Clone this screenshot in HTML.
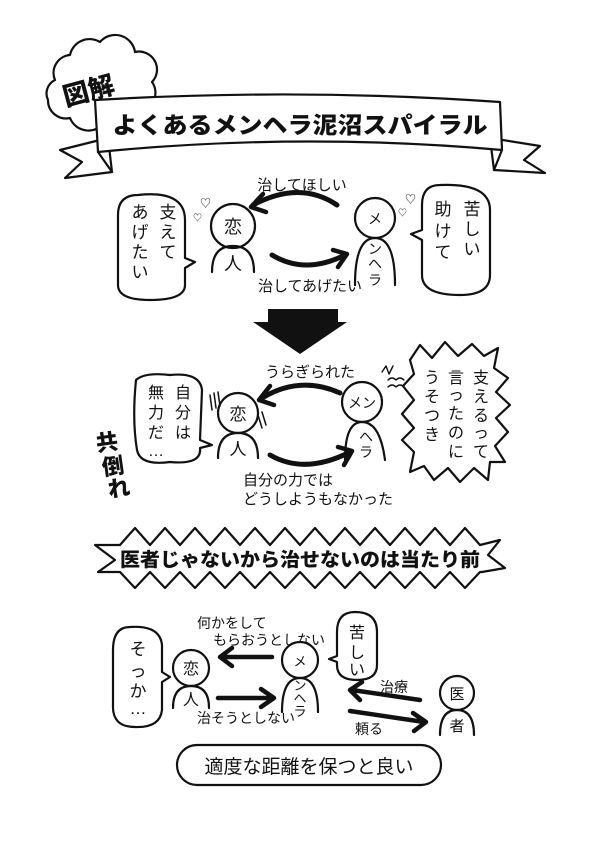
<!DOCTYPE html>
<html><head><meta charset="utf-8"><style>
html,body{margin:0;padding:0;background:#fff;}
svg{display:block;}
text{font-family:"Liberation Sans","Noto Sans CJK JP",sans-serif;fill:#111;}
.b{font-weight:900;}
</style></head><body>
<svg width="600" height="845" viewBox="0 0 600 845" xmlns="http://www.w3.org/2000/svg" fill="none" stroke="#111" stroke-width="2.2" stroke-linecap="round" stroke-linejoin="round">
<!-- cloud -->
<path fill="#fff" d="M55,80 A18,18 0 0 1 70,55 A20,20 0 0 1 100,42 A20,20 0 0 1 135,52 A18,18 0 0 1 152,82 A18,18 0 0 1 142,110 A20,20 0 0 1 105,122 A20,20 0 0 1 70,118 A18,18 0 0 1 48,100 A15,15 0 0 1 55,80 Z"/>
<text x="62" y="102" font-size="26" class="b" stroke="none" transform="rotate(-15 80 90)">図解</text>
<!-- ribbon tails -->
<path fill="#fff" d="M108,138 L60,150 L82,162 L65,178 L112,172 Z"/>
<path fill="#fff" d="M490,138 L540,146 L524,160 L545,173 L494,170 Z"/>
<path fill="#fff" d="M95,100 Q300,88 500,102 L502,150 Q300,132 98,152 Z"/>
<path d="M98,152 L112,172 M502,150 L494,170"/>
<text x="300" y="133" font-size="23" class="b" stroke="none" text-anchor="middle" textLength="375" lengthAdjust="spacingAndGlyphs">よくあるメンヘラ泥沼スパイラル</text>

<!-- section 1 -->
<text x="302" y="190" font-size="15" stroke="none" text-anchor="middle">治してほしい</text>
<path stroke-width="5" d="M337,205 Q300,180 253,205"/>
<path stroke-width="4.5" d="M263,194 L251,207 L266,212"/>
<path stroke-width="5" d="M272,255 Q305,275 345,255"/>
<path stroke-width="4.5" d="M333,250 L347,254 L338,267"/>
<text x="310" y="291" font-size="15" stroke="none" text-anchor="middle">治してあげたい</text>
<!-- 恋人 -->
<circle cx="233" cy="226" r="22" fill="#fff"/>
<path d="M212,272 Q212,246 233,246 Q254,246 254,272"/>
<text x="233" y="233" font-size="18" stroke="none" text-anchor="middle">恋</text>
<text x="233" y="270" font-size="18" stroke="none" text-anchor="middle">人</text>
<!-- メンヘラ -->
<circle cx="375" cy="218" r="20" fill="#fff"/>
<path d="M355,285 Q355,238 375,238 Q395,238 395,285"/>
<g font-size="14" stroke="none" text-anchor="middle"><text x="375" y="224">メ</text><text x="375" y="254">ン</text><text x="375" y="269">ヘ</text><text x="375" y="285">ラ</text></g>
<!-- bubbles -->
<path d="M138,195 Q185,190 185,220 L185,258 L195,262 L185,268 L185,285 Q185,300 150,300 Q118,300 118,285 L118,215 Q118,195 138,195 Z"/>
<g font-size="17" stroke="none" text-anchor="middle"><text x="168" y="218">支</text><text x="168" y="238">え</text><text x="168" y="258">て</text>
<text x="140" y="218">あ</text><text x="140" y="238">げ</text><text x="140" y="258">た</text><text x="140" y="278">い</text></g>
<path d="M440,185 Q490,183 490,210 L490,275 Q490,295 460,295 Q422,295 422,275 L422,240 L411,234 L422,230 L422,205 Q422,185 440,185 Z"/>
<g font-size="17" stroke="none" text-anchor="middle"><text x="472" y="215">苦</text><text x="472" y="235">し</text><text x="472" y="255">い</text>
<text x="443" y="215">助</text><text x="443" y="237">け</text><text x="443" y="258">て</text></g>
<text x="200" y="207" font-size="11" stroke="none">♡</text><text x="193" y="221" font-size="9" stroke="none">♡</text>
<text x="405" y="203" font-size="11" stroke="none">♡</text><text x="398" y="216" font-size="9" stroke="none">♡</text>

<!-- big arrow -->
<path fill="#111" stroke="none" d="M268,309 L338,309 L338,322 L347,322 L300,354 L253,322 L268,322 Z"/>

<!-- section 2 -->
<text x="310" y="377" font-size="15" stroke="none" text-anchor="middle">うらぎられた</text>
<path stroke-width="5" d="M340,393 Q300,375 262,398"/>
<path stroke-width="4.5" d="M270,386 L259,400 L274,405"/>
<path stroke-width="5" d="M270,455 Q305,475 350,452"/>
<path stroke-width="4.5" d="M338,447 L352,451 L344,465"/>
<text x="243" y="485" font-size="15" stroke="none">自分の力では</text>
<text x="243" y="504" font-size="15" stroke="none">どうしようもなかった</text>
<circle cx="238" cy="413" r="20" fill="#fff"/>
<path d="M218,458 Q218,433 238,433 Q258,433 258,458"/>
<text x="238" y="420" font-size="17" stroke="none" text-anchor="middle">恋</text>
<text x="238" y="455" font-size="17" stroke="none" text-anchor="middle">人</text>
<path stroke-width="1.5" d="M210,395 L212,410 M214,393 L216,408 M218,392 L220,406 M258,415 L262,428 M262,412 L266,425"/>
<circle cx="362" cy="402" r="20" fill="#fff"/>
<path d="M345,460 Q345,422 362,422 Q380,422 385,460"/>
<g font-size="14" stroke="none" text-anchor="middle"><text x="362" y="408">メン</text><text x="366" y="442">ヘ</text><text x="366" y="457">ラ</text></g>
<path stroke-width="1.4" d="M382,372 L386,366 L389,374 L393,366 M388,380 Q392,376 396,380 Q400,376 404,380 M388,387 Q392,383 396,387 Q400,383 404,387"/>
<path d="M136,380 Q145,372 170,375 Q200,372 202,390 L200,440 L212,445 L200,448 Q202,465 170,462 Q140,466 137,450 Q132,420 136,380 Z"/>
<g font-size="16" stroke="none" text-anchor="middle"><text x="183" y="398">自</text><text x="183" y="418">分</text><text x="183" y="438">は</text>
<text x="156" y="398">無</text><text x="156" y="418">力</text><text x="156" y="438">だ</text><text x="156" y="456">…</text></g>
<path fill="#fff" d="M410,360 L420,345 L432,358 L445,342 L458,356 L472,344 L484,356 L498,348 L494,368 L508,378 L496,392 L510,405 L496,418 L508,432 L495,446 L505,462 L490,462 L488,480 L474,468 L460,482 L448,468 L434,480 L424,466 L410,472 L414,452 L402,440 L414,428 L402,414 L414,400 L403,386 L414,374 Z"/>
<g font-size="16" stroke="none" text-anchor="middle"><text x="481" y="383">支</text><text x="481" y="402">え</text><text x="481" y="421">る</text><text x="481" y="438">っ</text><text x="481" y="457">て</text>
<text x="456" y="383">言</text><text x="456" y="400">っ</text><text x="456" y="419">た</text><text x="456" y="438">の</text><text x="456" y="457">に</text>
<text x="432" y="383">う</text><text x="432" y="402">そ</text><text x="432" y="421">つ</text><text x="432" y="440">き</text></g>
<g font-size="22" class="b" stroke="none" text-anchor="middle"><text x="108" y="450" transform="rotate(-8 108 450)">共</text><text x="114" y="474" transform="rotate(-8 114 474)">倒</text><text x="120" y="496" transform="rotate(-8 120 496)">れ</text></g>

<!-- starburst banner -->
<path fill="#fff" d="M120,545 L135,528 L150,545 L165,528 L180,545 L195,528 L210,545 L225,528 L240,545 L255,528 L270,545 L285,528 L300,545 L315,528 L330,545 L345,528 L360,545 L375,528 L390,545 L405,528 L420,545 L435,528 L450,545 L465,528 L480,545 L500,540 L488,555 L505,568 L482,572 L480,572 L465,588 L450,572 L435,588 L420,572 L405,588 L390,572 L375,588 L360,572 L345,588 L330,572 L315,588 L300,572 L285,588 L270,572 L255,588 L240,572 L225,588 L210,572 L195,588 L180,572 L165,588 L150,572 L135,588 L120,572 L98,572 L115,560 L95,545 Z"/>
<text x="300" y="566" font-size="19" class="b" stroke="none" text-anchor="middle" textLength="360" lengthAdjust="spacingAndGlyphs">医者じゃないから治せないのは当たり前</text>

<!-- section 3 -->
<text x="197" y="628" font-size="14" stroke="none">何かをして</text>
<text x="213" y="645" font-size="14" stroke="none">もらおうとしない</text>
<path stroke-width="4.5" d="M272,657 L222,657 M232,648 L220,657 L232,666"/>
<path stroke-width="4.5" d="M218,698 L272,698 M261,689 L274,698 L261,707"/>
<text x="197" y="723" font-size="14" stroke="none">治そうとしない</text>
<circle cx="191" cy="668" r="18" fill="#fff"/>
<path d="M173,708 Q173,686 191,686 Q209,686 209,708"/>
<text x="191" y="674" font-size="16" stroke="none" text-anchor="middle">恋</text>
<text x="191" y="705" font-size="16" stroke="none" text-anchor="middle">人</text>
<circle cx="300" cy="660" r="18" fill="#fff"/>
<path d="M282,712 Q282,678 300,678 Q318,678 318,712"/>
<g font-size="13" stroke="none" text-anchor="middle"><text x="300" y="666">メ</text><text x="300" y="690">ン</text><text x="300" y="703">ヘ</text><text x="300" y="716">ラ</text></g>
<path d="M130,627 Q160,625 162,645 L162,672 L170,677 L162,682 L162,710 Q160,728 135,727 Q112,727 113,705 L113,650 Q113,627 130,627 Z"/>
<g font-size="17" stroke="none" text-anchor="middle"><text x="138" y="655">そ</text><text x="138" y="677">っ</text><text x="138" y="697">か</text><text x="138" y="714">…</text></g>
<path d="M355,612 Q377,612 377,632 L377,665 Q377,680 357,680 Q337,680 337,665 L337,662 L329,659 L337,656 L337,632 Q337,612 355,612 Z"/>
<g font-size="16" stroke="none" text-anchor="middle"><text x="357" y="638">苦</text><text x="357" y="658">し</text><text x="357" y="675">い</text></g>
<text x="380" y="692" font-size="14" stroke="none">治療</text>
<path stroke-width="4.5" d="M420,700 L352,690 M362,682 L350,690 L360,700"/>
<path stroke-width="4.5" d="M350,711 L424,722 M413,713 L426,722 L414,731"/>
<text x="355" y="734" font-size="14" stroke="none">頼る</text>
<circle cx="457" cy="693" r="17" fill="#fff"/>
<path d="M440,735 Q440,710 457,710 Q474,710 474,735"/>
<text x="457" y="699" font-size="15" stroke="none" text-anchor="middle">医</text>
<text x="457" y="731" font-size="15" stroke="none" text-anchor="middle">者</text>
<!-- pill -->
<rect x="177" y="745" width="264" height="40" rx="20"/>
<text x="309" y="773" font-size="19" stroke="none" text-anchor="middle">適度な距離を保つと良い</text>
</svg>
</body></html>
